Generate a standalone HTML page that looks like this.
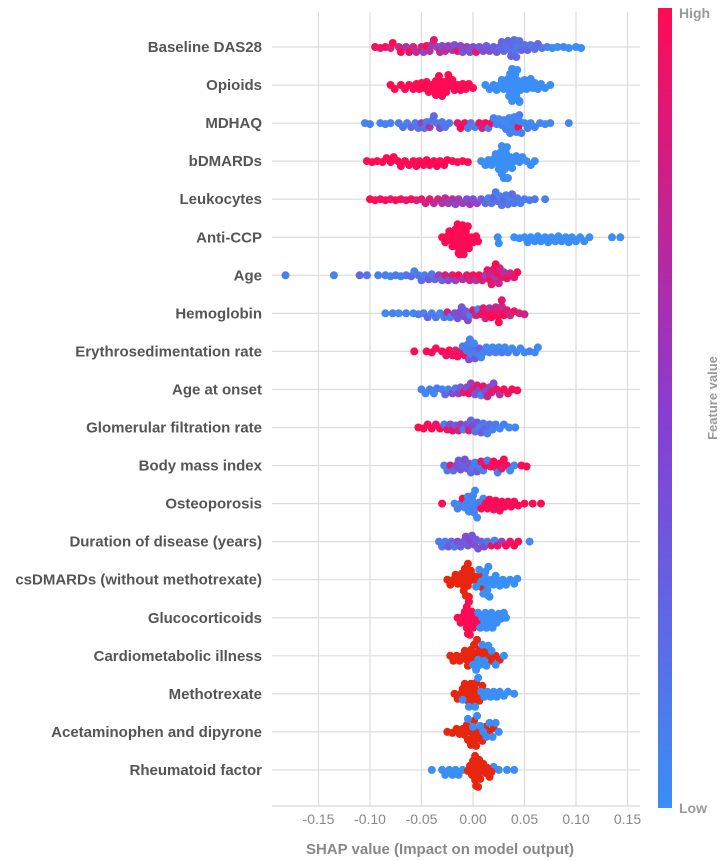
<!DOCTYPE html>
<html><head><meta charset="utf-8"><style>
html,body{margin:0;padding:0;background:#fff;}
svg{display:block;font-family:"Liberation Sans",Arial,sans-serif;}
</style></head><body>
<svg id="chart" width="725" height="861" viewBox="0 0 725 861">
<defs><linearGradient id="cbar" x1="0" y1="0" x2="0" y2="1">
<stop offset="0" stop-color="#ff0a54"/><stop offset="0.5" stop-color="#8a3ccf"/><stop offset="1" stop-color="#3a8ef6"/></linearGradient></defs>
<g id="grid"></g><g id="labels"></g><g id="dots"></g><g id="axis"></g>
<rect x="658" y="8" width="14" height="800" fill="url(#cbar)"/>
<text x="679" y="18" font-size="14" font-weight="bold" fill="#999">High</text>
<text x="679" y="813" font-size="14" font-weight="bold" fill="#999">Low</text>
<text transform="translate(717,398) rotate(-90)" text-anchor="middle" font-size="13" font-weight="bold" fill="#999">Feature value</text>
<text x="440" y="854" text-anchor="middle" font-size="15" font-weight="bold" fill="#888">SHAP value (Impact on model output)</text>
</svg>
<script>
const features = ["Baseline DAS28","Opioids","MDHAQ","bDMARDs","Leukocytes","Anti-CCP","Age","Hemoglobin","Erythrosedimentation rate","Age at onset","Glomerular filtration rate","Body mass index","Osteoporosis","Duration of disease (years)","csDMARDs (without methotrexate)","Glucocorticoids","Cardiometabolic illness","Methotrexate","Acetaminophen and dipyrone","Rheumatoid factor"];
const xTicks = [-0.15,-0.10,-0.05,0.00,0.05,0.10,0.15];
const xTickLabels = ["-0.15","-0.10","-0.05","0.00","0.05","0.10","0.15"];

const baselineDAS28 = [[-0.095,1],[-0.09,0.9],[-0.085,1],[-0.08,0.85],[-0.078,1],[-0.072,0.8],[-0.07,1],[-0.065,0.7],[-0.062,0.95],[-0.058,0.8],[-0.055,0.75],[-0.05,0.85],[-0.048,0.6],[-0.045,1],[-0.042,0.7],[-0.04,0.65],[-0.038,0.9],[-0.035,0.6],[-0.032,0.75],[-0.03,0.55],[-0.027,0.7],[-0.024,0.6],[-0.02,0.65],[-0.018,0.5],[-0.015,0.95],[-0.012,0.55],[-0.01,0.5],[-0.006,0.6],[-0.003,0.45],[0,0.5],[0.003,0.9],[0.006,0.45],[0.01,0.5],[0.013,0.4],[0.016,0.45],[0.02,0.35],[0.023,0.4],[0.026,0.3],[0.028,0.35],[0.03,0.3],[0.032,0.25],[0.034,0.3],[0.036,0.2],[0.037,0.35],[0.038,0.3],[0.04,0.25],[0.041,0.2],[0.042,0.3],[0.043,0.15],[0.045,0.25],[0.047,0.3],[0.05,0.25],[0.053,0.3],[0.056,0.2],[0.06,0.25],[0.063,0.3],[0.067,0.2],[0.072,0.1],[0.077,0.05],[0.082,0],[0.088,0.05],[0.093,0],[0.1,0],[0.105,0]];
const opioids = [[-0.08,1],[-0.076,1],[-0.07,1],[-0.066,1],[-0.062,1],[-0.058,1],[-0.055,1],[-0.052,1],[-0.05,1],[-0.047,1],[-0.045,1],[-0.043,1],[-0.04,1],[-0.038,1],[-0.036,1],[-0.034,1],[-0.032,1],[-0.03,1],[-0.028,1],[-0.026,1],[-0.024,1],[-0.022,1],[-0.02,1],[-0.018,1],[-0.015,1],[-0.012,1],[-0.01,1],[-0.007,1],[-0.004,1],[0,1],[-0.036,1],[-0.033,1],[-0.03,1],[-0.025,1],[0.012,0],[0.016,0],[0.02,0],[0.023,0],[0.026,0],[0.028,0],[0.03,0],[0.032,0],[0.034,0],[0.035,0],[0.036,0],[0.037,0],[0.038,0],[0.039,0],[0.04,0],[0.041,0],[0.042,0],[0.043,0],[0.044,0],[0.045,0],[0.046,0],[0.048,0],[0.05,0],[0.052,0],[0.054,0],[0.056,0],[0.058,0],[0.06,0],[0.063,0],[0.066,0],[0.07,0],[0.075,0],[0.035,0],[0.038,0],[0.042,0],[0.045,0]];
const mdhaq = [[-0.105,0.05],[-0.1,0.1],[-0.09,0.05],[-0.085,0.1],[-0.08,0.1],[-0.072,0.15],[-0.068,0.2],[-0.064,0.1],[-0.06,0.3],[-0.056,0.15],[-0.053,0.2],[-0.05,0.6],[-0.047,0.25],[-0.045,0.15],[-0.042,0.7],[-0.04,0.2],[-0.038,0.3],[-0.035,0.2],[-0.032,0.5],[-0.03,0.15],[-0.027,0.2],[-0.023,0.15],[-0.015,0.9],[-0.012,1],[-0.008,0.95],[-0.005,0.1],[-0.002,0.2],[0.002,0.1],[0.006,0.95],[0.009,0.8],[0.012,1],[0.015,0.15],[0.018,0.95],[0.02,0.1],[0.023,0.1],[0.025,0.05],[0.028,0.1],[0.03,0.05],[0.032,0.1],[0.034,0.05],[0.036,0.1],[0.038,0.05],[0.04,0.1],[0.042,0.05],[0.044,0.95],[0.045,0.05],[0.047,0.1],[0.05,0.05],[0.053,0.1],[0.056,0.05],[0.06,0.1],[0.065,0.05],[0.07,0.05],[0.075,0.05],[0.093,0.05],[0.035,0.05],[0.04,0.05],[0.045,0.1]];
const bDMARDs = [[-0.103,1],[-0.098,1],[-0.093,1],[-0.088,1],[-0.084,1],[-0.08,1],[-0.077,1],[-0.073,1],[-0.07,1],[-0.066,1],[-0.062,1],[-0.058,1],[-0.055,1],[-0.052,1],[-0.048,1],[-0.045,1],[-0.042,1],[-0.038,1],[-0.035,1],[-0.032,1],[-0.028,1],[-0.025,1],[-0.02,1],[-0.015,1],[-0.01,1],[-0.005,1],[0.008,0],[0.012,0],[0.015,0],[0.018,0],[0.02,0],[0.022,0],[0.024,0],[0.026,0],[0.027,0],[0.028,0],[0.029,0],[0.03,0],[0.031,0],[0.032,0],[0.033,0],[0.034,0],[0.035,0],[0.036,0],[0.038,0],[0.04,0],[0.042,0],[0.045,0],[0.048,0],[0.052,0],[0.056,0],[0.06,0],[0.025,0],[0.03,0],[0.033,0],[0.028,0],[0.031,0]];
const leukocytes = [[-0.1,1],[-0.095,1],[-0.09,0.95],[-0.085,1],[-0.08,0.9],[-0.075,1],[-0.07,0.95],[-0.065,0.9],[-0.06,1],[-0.055,0.85],[-0.05,0.9],[-0.046,0.8],[-0.042,0.9],[-0.038,0.75],[-0.034,0.8],[-0.03,0.7],[-0.027,0.75],[-0.024,0.6],[-0.02,0.7],[-0.017,0.55],[-0.014,0.65],[-0.01,0.6],[-0.006,0.5],[-0.003,0.65],[0,0.5],[0.004,0.55],[0.008,0.4],[0.012,0.3],[0.015,0.1],[0.018,0.2],[0.02,0.35],[0.022,0.15],[0.024,0.25],[0.026,0.1],[0.028,0.2],[0.03,0.3],[0.032,0.15],[0.034,0.2],[0.036,0.1],[0.038,0.25],[0.04,0.15],[0.043,0.2],[0.046,0.1],[0.05,0.15],[0.055,0.1],[0.06,0.2],[0.07,0.1]];
const antiCCP = [[-0.03,1],[-0.027,1],[-0.025,1],[-0.023,1],[-0.021,1],[-0.02,1],[-0.018,1],[-0.017,1],[-0.016,1],[-0.015,1],[-0.014,1],[-0.013,1],[-0.012,1],[-0.011,1],[-0.01,1],[-0.009,1],[-0.008,1],[-0.007,1],[-0.006,1],[-0.005,1],[-0.004,1],[-0.002,1],[0,1],[0.003,1],[0.005,1],[-0.015,1],[-0.012,1],[-0.013,1],[-0.01,1],[0.024,0],[0.025,0],[0.04,0],[0.045,0],[0.05,0],[0.053,0],[0.056,0],[0.06,0],[0.063,0],[0.066,0],[0.07,0],[0.073,0],[0.076,0],[0.08,0],[0.083,0],[0.086,0],[0.09,0],[0.093,0],[0.096,0],[0.1,0],[0.104,0],[0.108,0],[0.113,0],[0.135,0],[0.143,0]];
const age = [[-0.182,0.1],[-0.135,0.1],[-0.11,0.3],[-0.103,0.2],[-0.092,0.1],[-0.085,0.1],[-0.08,0.05],[-0.075,0.15],[-0.07,0.1],[-0.065,0.2],[-0.06,0.3],[-0.057,0.1],[-0.053,0.15],[-0.05,0.25],[-0.047,0.1],[-0.043,0.4],[-0.04,0.2],[-0.037,0.35],[-0.033,0.6],[-0.03,0.3],[-0.027,0.85],[-0.024,0.5],[-0.02,0.9],[-0.017,0.6],[-0.014,1],[-0.01,0.7],[-0.006,0.9],[-0.003,0.8],[0,0.95],[0.003,0.7],[0.006,1],[0.009,0.85],[0.012,0.6],[0.014,0.9],[0.016,1],[0.018,0.75],[0.02,0.9],[0.022,0.65],[0.024,1],[0.026,0.8],[0.028,0.9],[0.03,0.7],[0.033,0.95],[0.036,0.8],[0.04,0.9],[0.043,1],[0.018,0.9],[0.022,1],[0.025,0.8]];
const hemoglobin = [[-0.085,0.05],[-0.078,0.1],[-0.072,0.05],[-0.065,0.1],[-0.058,0.05],[-0.053,0.15],[-0.048,0.1],[-0.044,0.3],[-0.04,0.1],[-0.036,0.2],[-0.032,0.05],[-0.028,0.15],[-0.025,0.8],[-0.022,0.1],[-0.018,0.5],[-0.015,0.45],[-0.013,0.5],[-0.011,0.45],[-0.009,0.5],[-0.007,0.4],[-0.005,0.55],[-0.003,0.15],[0,0.9],[0.003,0.8],[0.005,0.1],[0.008,0.95],[0.01,0.9],[0.012,0.85],[0.014,1],[0.016,0.7],[0.018,1],[0.02,0.95],[0.022,0.8],[0.024,1],[0.026,0.9],[0.028,0.75],[0.03,1],[0.033,0.9],[0.036,0.8],[0.04,0.95],[0.045,0.85],[0.05,0.8],[0.025,1],[0.028,0.9]];
const esr = [[-0.057,1],[-0.045,1],[-0.04,1],[-0.036,0.95],[-0.03,1],[-0.026,0.9],[-0.023,1],[-0.02,0.95],[-0.017,0.85],[-0.015,1],[-0.012,0.9],[-0.01,0.1],[-0.008,0.95],[-0.006,0.15],[-0.004,0.5],[-0.002,0.1],[0,0.2],[0.002,0.45],[0.004,0.1],[0.006,0.4],[0.008,0.05],[0.01,0.1],[0.013,0.05],[0.016,0.1],[0.019,0.05],[0.022,0.1],[0.025,0.05],[0.028,0.15],[0.031,0.05],[0.034,0.1],[0.038,0.05],[0.042,0.1],[0.046,0.05],[0.05,0.05],[0.055,0.1],[0.06,0.05],[0.063,0.05],[-0.005,0.1],[-0.003,0.05],[0.001,0.05]];
const ageAtOnset = [[-0.05,0.1],[-0.046,0.05],[-0.042,0.1],[-0.038,0.05],[-0.035,0.15],[-0.03,0.1],[-0.027,0.3],[-0.024,0.1],[-0.02,0.5],[-0.017,0.2],[-0.014,0.6],[-0.012,0.4],[-0.009,0.9],[-0.006,0.5],[-0.004,0.95],[-0.002,0.6],[0,0.8],[0.002,0.45],[0.004,0.9],[0.006,0.55],[0.008,0.1],[0.01,0.95],[0.012,0.5],[0.014,0.8],[0.016,0.6],[0.018,0.9],[0.02,0.5],[0.023,0.95],[0.026,0.7],[0.03,1],[0.034,0.9],[0.038,1],[0.043,0.95]];
const gfr = [[-0.053,1],[-0.048,1],[-0.044,0.95],[-0.04,1],[-0.036,0.9],[-0.032,1],[-0.028,0.15],[-0.025,0.9],[-0.022,0.5],[-0.02,0.95],[-0.017,0.4],[-0.014,0.85],[-0.012,0.6],[-0.009,0.1],[-0.006,0.5],[-0.004,0.9],[-0.002,0.3],[0,0.55],[0.002,0.2],[0.004,0.45],[0.006,0.1],[0.008,0.4],[0.01,0.15],[0.012,0.3],[0.014,0.1],[0.016,0.25],[0.019,0.1],[0.022,0.15],[0.026,0.05],[0.03,0.1],[0.035,0.05],[0.041,0.05]];
const bmi = [[-0.028,0.1],[-0.025,0.15],[-0.022,0.9],[-0.019,0.3],[-0.016,0.5],[-0.014,0.4],[-0.012,0.45],[-0.01,0.35],[-0.008,0.5],[-0.006,0.4],[-0.004,0.45],[-0.002,0.3],[0,0.2],[0.002,0.1],[0.004,0.4],[0.006,0.15],[0.008,0.9],[0.01,0.1],[0.012,0.95],[0.014,0.15],[0.017,0.9],[0.02,1],[0.022,0.95],[0.024,0.1],[0.026,1],[0.028,0.9],[0.03,1],[0.033,0.95],[0.036,0.05],[0.04,0.05],[0.047,1],[0.052,1]];
const osteoporosis = [[-0.03,1],[-0.018,0.05],[-0.015,0.1],[-0.012,0.05],[-0.01,1],[-0.008,0.05],[-0.006,0.1],[-0.004,0.05],[-0.002,0.1],[0,0.05],[0.001,0.1],[0.002,0.05],[0.003,0.1],[0.004,0.05],[0.006,0.1],[0.008,1],[0.01,0.05],[0.012,1],[0.014,0.95],[0.016,1],[0.018,1],[0.02,0.95],[0.022,1],[0.024,1],[0.026,0.95],[0.028,1],[0.031,1],[0.034,0.95],[0.037,1],[0.04,1],[0.044,1],[0.05,1],[0.058,1],[0.066,1],[-0.005,0.05],[0,0.1]];
const duration = [[-0.033,0.1],[-0.03,0.2],[-0.027,0.15],[-0.024,0.4],[-0.021,0.3],[-0.018,0.2],[-0.015,0.5],[-0.012,0.35],[-0.009,0.45],[-0.007,0.5],[-0.005,0.4],[-0.003,0.55],[-0.001,0.45],[0.001,0.5],[0.003,0.4],[0.005,0.45],[0.008,0.3],[0.011,0.5],[0.014,0.2],[0.018,0.9],[0.021,0.1],[0.024,0.95],[0.028,0.6],[0.032,1],[0.036,0.9],[0.04,1],[0.044,0.95],[0.055,0.05]];
const csDMARDs = [[-0.025,1],[-0.022,1],[-0.019,1],[-0.017,1],[-0.015,1],[-0.013,1],[-0.011,1],[-0.01,1],[-0.009,1],[-0.008,1],[-0.007,1],[-0.006,1],[-0.005,1],[-0.004,1],[-0.003,1],[-0.002,1],[0,1],[0.003,1],[0.006,1],[0.009,1],[-0.008,1],[-0.005,1],[0.003,0],[0.006,0],[0.008,0],[0.01,0],[0.012,0],[0.013,0],[0.014,0],[0.015,0],[0.016,0],[0.018,0],[0.02,0],[0.022,0],[0.024,0],[0.026,0],[0.029,0],[0.032,0],[0.036,0],[0.04,0],[0.043,0],[0.015,0],[0.012,0]];
const glucocorticoids = [[-0.015,1],[-0.012,1],[-0.01,1],[-0.008,1],[-0.007,1],[-0.006,1],[-0.005,1],[-0.004,1],[-0.003,1],[-0.002,1],[-0.001,1],[0,1],[0.002,1],[0.004,1],[-0.006,1],[-0.004,1],[0.005,0],[0.007,0],[0.009,0],[0.011,0],[0.013,0],[0.015,0],[0.017,0],[0.019,0],[0.021,0],[0.023,0],[0.025,0],[0.027,0],[0.03,0],[0.032,0],[0.012,0],[0.018,0]];
const cardiometabolic = [[-0.022,1],[-0.019,1],[-0.016,1],[-0.013,1],[-0.01,1],[-0.008,1],[-0.006,1],[-0.004,1],[-0.002,1],[0,1],[0.002,1],[0.004,1],[0.006,1],[0.009,1],[0.012,1],[0.015,1],[0.018,1],[0.022,1],[0.026,1],[-0.005,1],[0.001,1],[0,0],[0.003,0],[0.005,0],[0.007,0],[0.009,0],[0.011,0],[0.013,0],[0.015,0],[0.018,0],[0.022,0],[0.03,0]];
const methotrexate = [[-0.018,1],[-0.015,1],[-0.012,1],[-0.01,1],[-0.008,1],[-0.006,1],[-0.004,1],[-0.002,1],[0,1],[0.002,1],[0.004,1],[0.006,1],[0.009,1],[-0.005,1],[-0.001,1],[0.003,1],[-0.01,0],[-0.004,0],[0.002,0],[0.005,0],[0.008,0],[0.011,0],[0.014,0],[0.017,0],[0.02,0],[0.023,0],[0.026,0],[0.03,0],[0.034,0],[0.04,0]];
const acetaminophen = [[-0.025,1],[-0.02,1],[-0.016,1],[-0.013,1],[-0.01,1],[-0.008,1],[-0.006,1],[-0.004,1],[-0.002,1],[0,1],[0.002,1],[0.004,1],[0.006,1],[0.009,1],[0.012,1],[0.016,1],[0.02,1],[-0.005,1],[0.003,1],[0.001,1],[-0.005,0],[0,0],[0.004,0],[0.007,0],[0.01,0],[0.013,0],[0.016,0],[0.019,0],[0.022,0],[0.025,0]];
const rheumatoidFactor = [[-0.04,0],[-0.03,0],[-0.027,0],[-0.023,0],[-0.02,0],[-0.017,0],[-0.014,0],[-0.01,0],[0.02,0],[0.025,0],[0.033,0],[0.04,0],[-0.005,1],[-0.003,1],[-0.001,1],[0,1],[0.001,1],[0.002,1],[0.003,1],[0.004,1],[0.005,1],[0.006,1],[0.007,1],[0.008,1],[0.01,1],[0.012,1],[0.014,1],[0.016,1],[0.018,1],[0.002,1],[0.005,1]];

const series = [baselineDAS28,opioids,mdhaq,bDMARDs,leukocytes,antiCCP,age,hemoglobin,esr,ageAtOnset,gfr,bmi,osteoporosis,duration,csDMARDs,glucocorticoids,cardiometabolic,methotrexate,acetaminophen,rheumatoidFactor];

const NS = "http://www.w3.org/2000/svg";
const x = v => 473 + v * 1030;
const rowY = i => 47 + i * 38.05;
function mk(tag, attrs, parent){const e=document.createElementNS(NS,tag);for(const k in attrs)e.setAttribute(k,attrs[k]);parent.appendChild(e);return e;}
function hexToRgb(h){return [parseInt(h.slice(1,3),16),parseInt(h.slice(3,5),16),parseInt(h.slice(5,7),16)];}
const cLow=hexToRgb("#3a8ef6"), cMid=hexToRgb("#7d4fd4"), cHigh=hexToRgb("#ff0a54"), cOrange="#e8250e";
function color(f,row){
  if(row>=14 && row!==15 && f>=1) return cOrange;
  let a,b,t;
  if(f<0.5){a=cLow;b=cMid;t=f/0.5;}else{a=cMid;b=cHigh;t=(f-0.5)/0.5;}
  const c=a.map((v,k)=>Math.round(v+(b[k]-v)*t));
  return "rgb("+c.join(",")+")";
}
const grid=document.getElementById("grid"), labels=document.getElementById("labels"), dots=document.getElementById("dots"), axis=document.getElementById("axis");
xTicks.forEach((t,i)=>{
  const gl=mk("line",{x1:x(t),x2:x(t),y1:12,y2:806,stroke:"#dcdcdc","stroke-width":1.2},grid);
  
  
  const tl=mk("text",{x:x(t),y:824,"text-anchor":"middle","font-size":14,fill:"#888"},axis);
  tl.textContent=xTickLabels[i];
  
  
});
const ax=mk("line",{x1:272,x2:640,y1:806,y2:806,stroke:"#d8d8d8","stroke-width":1.2},axis);


features.forEach((name,i)=>{
  const y=rowY(i);
  const hl=mk("line",{x1:272,x2:640,y1:y,y2:y,stroke:"#dcdcdc","stroke-width":1.2},grid);
  
  
  const lb=mk("text",{x:262,y:y+5,"text-anchor":"end","font-size":15,"font-weight":"bold",fill:"#555"},labels);
  lb.textContent=name;
  
  
  const pts=series[i].map(p=>({px:x(p[0]),f:p[1]}));
  const order=pts.slice().sort((a,b)=>a.px-b.px);
  const placed=[];
  const minD=5.2;
  order.forEach(p=>{
    let dy=0;
    for(let s=0;s<40;s++){
      const c=(s%2?1:-1)*Math.ceil(s/2)*1;
      let ok=true;
      for(const q of placed){const dx=q.px-p.px,dd=q.dy-c;if(dx*dx+dd*dd<minD*minD){ok=false;break;}}
      if(ok){dy=c;break;}
      if(Math.abs(c)>16){dy=c;break;}
    }
    p.dy=dy;placed.push(p);
  });
  pts.forEach(p=>{
    const d=mk("circle",{cx:p.px.toFixed(1),cy:(y+p.dy).toFixed(1),r:4,fill:color(p.f,i)},dots);
    
    
  });
});
</script>
</body></html>
